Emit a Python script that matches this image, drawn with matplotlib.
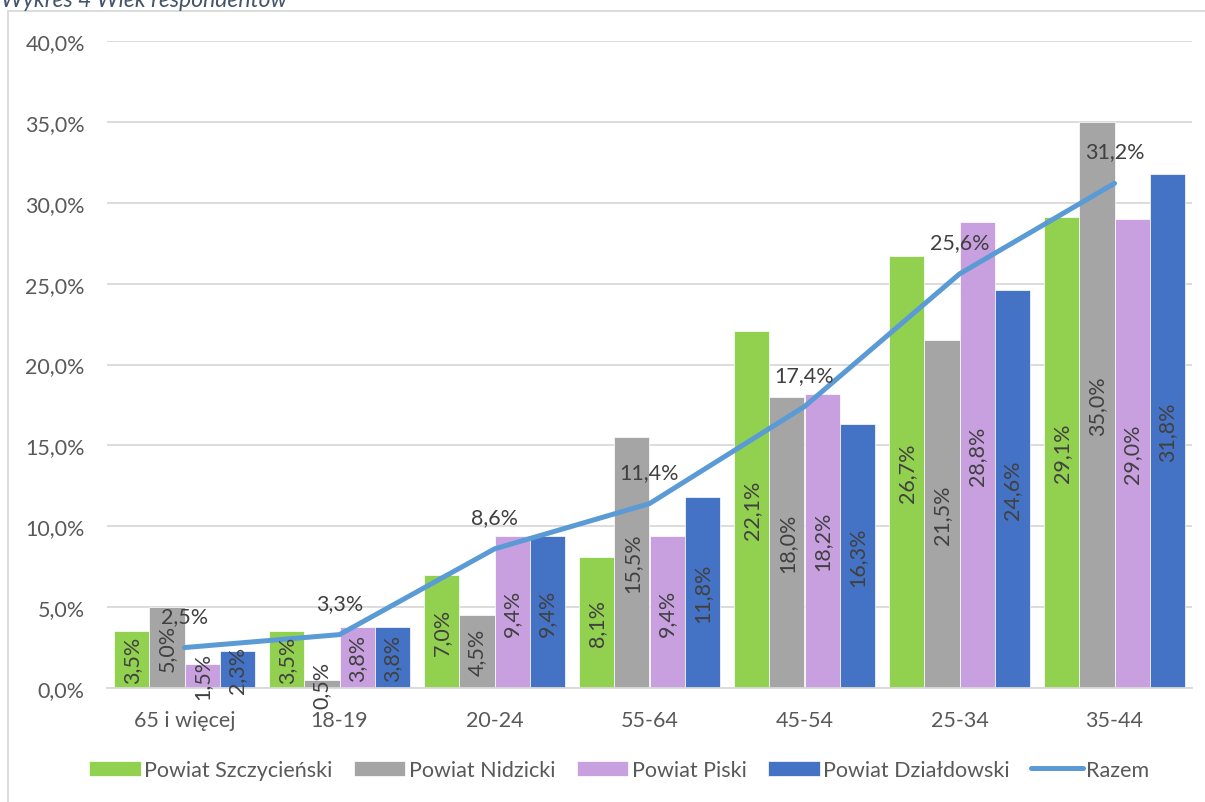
import matplotlib
matplotlib.use("Agg")
import matplotlib.pyplot as plt
import numpy as np
from matplotlib.patches import Rectangle
from matplotlib.ticker import FuncFormatter

categories = ["65 i więcej", "18-19", "20-24", "55-64", "45-54", "25-34", "35-44"]
series_names = ["Powiat Szczycieński", "Powiat Nidzicki", "Powiat Piski", "Powiat Działdowski"]
szczycienski = [3.5, 3.5, 7.0, 8.1, 22.1, 26.7, 29.1]
nidzicki = [5.0, 0.5, 4.5, 15.5, 18.0, 21.5, 35.0]
piski = [1.5, 3.8, 9.4, 9.4, 18.2, 28.8, 29.0]
dzialdowski = [2.3, 3.8, 9.4, 11.8, 16.3, 24.6, 31.8]
razem = [2.5, 3.3, 8.6, 11.4, 17.4, 25.6, 31.2]
yticks = [0, 5, 10, 15, 20, 25, 30, 35, 40]

colors = ["#92D050", "#A5A5A5", "#C8A0E0", "#4472C4"]
line_color = "#5B9BD5"
FONT = "Lato"
FS = 15.5
plt.rcParams['font.family'] = [FONT, 'DejaVu Sans']

W, H = 1205, 803
fig = plt.figure(figsize=(W / 100, H / 100), dpi=100)

# chart border
fig.patches.append(Rectangle((8 / W, -0.01), 1.2, 1 - 12 / H + 0.01, transform=fig.transFigure,
                             fill=False, edgecolor="#D9D9D9", linewidth=1.3))
fig.text(1 / W, 1 - 7 / H, "Wykres 4 Wiek respondentów", fontsize=16.5, style="italic",
         color="#44546A", ha="left", va="baseline")

ax = fig.add_axes([107 / W, 1 - 689 / H, (1192 - 107) / W, (689 - 42) / H])

def fmt(v):
    return f"{v:.1f}%".replace(".", ",")

x = np.arange(len(categories))
bw = 0.227
all_series = [szczycienski, nidzicki, piski, dzialdowski]
for i, (vals, c, name) in enumerate(zip(all_series, colors, series_names)):
    offs = (i - 1.5) * bw
    ax.bar(x + offs, vals, width=bw, color=c, edgecolor="white", linewidth=0.5,
           label=name, zorder=2)
    for xi, v in zip(x + offs, vals):
        ax.text(xi, v / 2, fmt(v), rotation=90, ha="center", va="center",
                fontsize=FS, color="#404040", zorder=5)

ax.plot(x, razem, color=line_color, linewidth=3.6, solid_capstyle="round",
        label="Razem", zorder=4)
for xi, v in zip(x, razem):
    ax.annotate(fmt(v), (xi, v), xytext=(0, 23), textcoords="offset points",
                ha="center", va="center", fontsize=FS, color="#404040", zorder=6)

ax.set_xlim(-0.5, len(categories) - 0.5)
ax.set_ylim(0, 40)
ax.set_yticks(yticks)
ax.yaxis.set_major_formatter(FuncFormatter(lambda v, p: fmt(v)))
ax.set_xticks(x)
ax.set_xticklabels(categories)
ax.tick_params(axis="both", length=0, labelsize=FS, labelcolor="#595959")
ax.tick_params(axis="y", pad=16)
ax.tick_params(axis="x", pad=16)
ax.grid(axis="y", color="#D9D9D9", linewidth=1.3, zorder=0)
ax.set_axisbelow(True)
for s in ["top", "right", "left"]:
    ax.spines[s].set_visible(False)
ax.spines["bottom"].set_color("#D9D9D9")
ax.spines["bottom"].set_linewidth(1.3)

handles, labels = ax.get_legend_handles_labels()
order = [1, 2, 3, 4, 0]
fig.legend([handles[i] for i in order], [labels[i] for i in order],
           loc="center", bbox_to_anchor=(619 / W, 1 - 771 / H), ncol=5, frameon=False,
           fontsize=FS, handlelength=2.4, handleheight=0.75, handletextpad=0.15,
           columnspacing=1.0, labelcolor="#595959")

fig.savefig("out.png", dpi=100)
